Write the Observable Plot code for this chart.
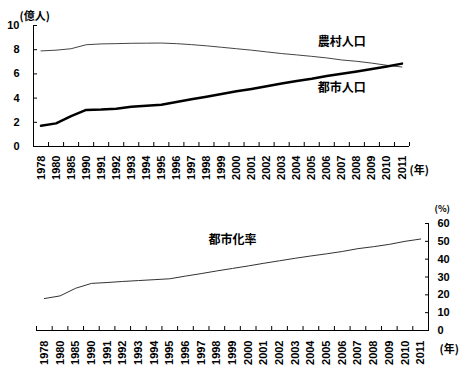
<!DOCTYPE html>
<html><head><meta charset="utf-8">
<script src="https://cdn.jsdelivr.net/npm/d3@7"></script>
<script src="https://cdn.jsdelivr.net/npm/@observablehq/plot@0.6"></script>
<style>body{margin:0;background:#fff} svg{display:block}</style>
</head><body><div id="c"></div>
<script>
const years = ["1978","1980","1985","1990","1991","1992","1993","1994","1995","1996","1997","1998","1999","2000","2001","2002","2003","2004","2005","2006","2007","2008","2009","2010","2011"];
const rural = [7.90,7.96,8.08,8.41,8.48,8.50,8.53,8.54,8.55,8.50,8.42,8.32,8.20,8.08,7.96,7.82,7.68,7.57,7.45,7.32,7.15,7.04,6.89,6.71,6.57];
const urban = [1.72,1.91,2.51,3.02,3.05,3.12,3.28,3.36,3.45,3.68,3.90,4.12,4.34,4.56,4.76,4.98,5.20,5.42,5.60,5.82,6.02,6.20,6.40,6.62,6.85];
const rate = [17.9,19.4,23.7,26.4,26.9,27.5,28.0,28.5,29.0,30.5,31.9,33.4,34.8,36.2,37.7,39.1,40.5,41.8,43.0,44.3,45.9,47.0,48.3,50.0,51.3];
const popTicks = [0,2,4,6,8,10];
const rateTicks = [0,10,20,30,40,50,60];
const popNotes = [{label:"農村人口", at:"2007", v:8.6},{label:"都市人口", at:"2007", v:4.8}];
const rateNotes = [{label:"都市化率", at:"1999", v:50.5}];

const rows = years.map((y, k) => ({i: k + 0.5, year: y, rural: rural[k], urban: urban[k], rate: rate[k]}));
const bounds = d3.range(years.length + 1);
const centers = years.map((y, k) => k + 0.5);
const noteX = d => years.indexOf(d.at) + 0.5;
const style = {fontFamily: "'Liberation Sans', 'Noto Sans CJK JP', sans-serif", fontSize: "11px", fontWeight: "bold", color: "#000", background: "#fff"};
const cjk = "'Noto Sans CJK JP', sans-serif";

const popChart = Plot.plot({
  width: 465, height: 190,
  marginLeft: 33, marginRight: 56, marginTop: 25, marginBottom: 44,
  style,
  x: {domain: [0, years.length], axis: null},
  y: {domain: [0, 10], axis: null},
  marks: [
    Plot.axisY({ticks: popTicks, tickSize: -4, tickPadding: 18, label: null}),
    Plot.axisX({ticks: bounds, tickSize: -4, tickFormat: () => "", label: null}),
    Plot.axisX({ticks: centers, tickSize: 0, tickPadding: 9, tickRotate: -90, tickFormat: i => years[Math.floor(i)], label: null}),
    Plot.ruleY([0], {stroke: "#000"}),
    Plot.ruleX([0], {stroke: "#000"}),
    Plot.line(rows, {x: "i", y: "rural", stroke: "#444", strokeWidth: 1}),
    Plot.line(rows, {x: "i", y: "urban", stroke: "#000", strokeWidth: 2.5}),
    Plot.text(popNotes, {x: noteX, y: "v", text: "label", fontSize: 12, fontFamily: cjk, fontWeight: "bold"}),
    Plot.text(["(億人)"], {frameAnchor: "top-left", dx: -14, dy: -13, fontSize: 11, fontFamily: cjk, fontWeight: "bold"}),
    Plot.text(["(年)"], {frameAnchor: "bottom-right", dx: 0, dy: 27, textAnchor: "start", fontSize: 11, fontFamily: cjk, fontWeight: "bold"})
  ]
});

const rateChart = Plot.plot({
  width: 465, height: 180,
  marginLeft: 36, marginRight: 37, marginTop: 33, marginBottom: 40,
  style,
  x: {domain: [0, years.length], axis: null},
  y: {domain: [0, 60], axis: null},
  marks: [
    Plot.axisY({anchor: "right", ticks: rateTicks, tickSize: -4, tickPadding: 13, label: null}),
    Plot.axisX({ticks: bounds, tickSize: -4, tickFormat: () => "", label: null}),
    Plot.axisX({ticks: centers, tickSize: 0, tickPadding: 10, tickRotate: -90, tickFormat: i => years[Math.floor(i)], label: null}),
    Plot.ruleY([0], {stroke: "#000"}),
    Plot.ruleX([years.length], {stroke: "#000"}),
    Plot.line(rows, {x: "i", y: "rate", stroke: "#333", strokeWidth: 1}),
    Plot.text(rateNotes, {x: noteX, y: "v", text: "label", fontSize: 12, fontFamily: cjk, fontWeight: "bold"}),
    Plot.text(["(%)"], {frameAnchor: "top-right", dx: 6, dy: -18, textAnchor: "start", fontSize: 9, fontFamily: cjk, fontWeight: "bold"}),
    Plot.text(["(年)"], {frameAnchor: "bottom-right", dx: 11, dy: 22, textAnchor: "start", fontSize: 11, fontFamily: cjk, fontWeight: "bold"})
  ]
});

const c = document.getElementById("c");
c.appendChild(popChart);
c.appendChild(rateChart);
</script>
</body></html>
